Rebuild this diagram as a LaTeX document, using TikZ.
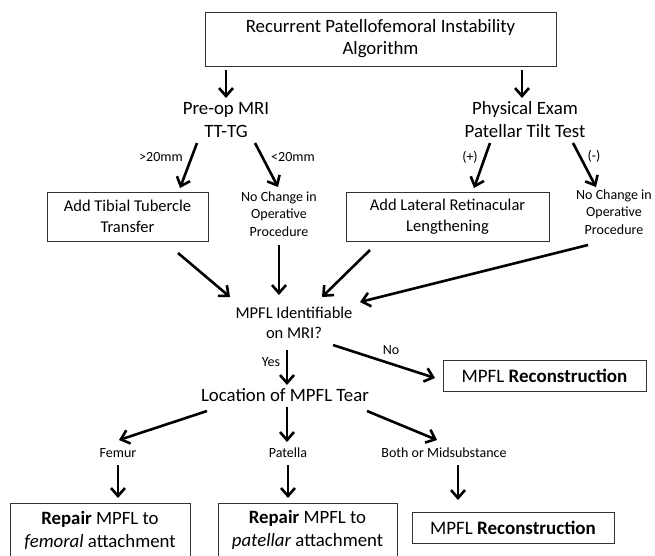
\documentclass[tikz,border=0pt]{standalone}
\usepackage{fontspec}
\setmainfont{Carlito}
\usetikzlibrary{arrows.meta}
\begin{document}
\begin{tikzpicture}[x=1pt,y=-1pt,
 arr/.style={line width=2.6pt,-{Straight Barb[length=8pt,width=14pt]}},
 box/.style={draw=black!80,line width=0.8pt,inner sep=0pt,align=center},
 txt/.style={inner sep=0pt,align=center},
 big/.style={font=\fontsize{18.8}{23}\selectfont},
 mid/.style={font=\fontsize{16.5}{21}\selectfont},
 sml/.style={font=\fontsize{14}{17.5}\selectfont}]
\useasboundingbox (0,0) rectangle (655,555);
\begin{scope}
\clip (0,0) rectangle (655,555);
% boxes
\node[box,minimum width=351pt,minimum height=54pt,font=\fontsize{18.8}{22}\selectfont] (top) at (380.5,39) {Recurrent Patellofemoral Instability\\Algorithm};
\node[txt,font=\fontsize{18.8}{23}\selectfont] (preop) at (226,120) {Pre-op MRI\\TT-TG};
\node[txt,font=\fontsize{18.8}{23}\selectfont] (phys) at (525,120) {Physical Exam\\Patellar Tilt Test};
\node[box,mid,minimum width=161pt,minimum height=49pt] (tib) at (127.5,216.5) {Add Tibial Tubercle\\Transfer};
\node[txt,sml] (nc1) at (279,214) {No Change in\\Operative\\Procedure};
\node[box,mid,minimum width=203pt,minimum height=49pt] (lat) at (447.5,216.5) {Add Lateral Retinacular\\Lengthening};
\node[txt,sml] (nc2) at (614,212) {No Change in\\Operative\\Procedure};
\node[txt,font=\fontsize{16.5}{20}\selectfont] (mpfl) at (294,323) {MPFL Identifiable\\on MRI?};
\node[box,font=\fontsize{19}{23}\selectfont,minimum width=203pt,minimum height=31pt] (rec1) at (544.5,375.5) {MPFL \textbf{Reconstruction}};
\node[txt,big] (loc) at (285,395) {Location of MPFL Tear};
\node[txt,sml] (fem) at (118,453) {Femur};
\node[txt,sml] (pat) at (288,453) {Patella};
\node[txt,sml] (both) at (444,453) {Both or Midsubstance};
\node[box,minimum width=180pt,minimum height=72pt] (rep1) at (100,539) {};
\node[txt,big] (rep1t) at (100,530) {\textbf{Repair} MPFL to\\\textit{femoral} attachment};
\node[box,minimum width=179pt,minimum height=72pt] (rep2) at (307.5,539) {};
\node[txt,big] (rep2t) at (307.5,530) {\textbf{Repair} MPFL to\\\textit{patellar} attachment};
\node[box,font=\fontsize{19}{23}\selectfont,minimum width=202pt,minimum height=31pt] (rec2) at (513,527.5) {MPFL \textbf{Reconstruction}};
% labels
\node[txt,sml] (gt) at (161,157) {>20mm};
\node[txt,sml] (lt) at (293,157) {<20mm};
\node[txt,sml] (plus) at (470,157) {(+)};
\node[txt,sml] (minus) at (594,156) {(-)};
\node[txt,sml] (yes) at (271,362) {Yes};
\node[txt,sml] (no) at (391,350) {No};
% arrow end points
\foreach \n/\px/\py in {s1/226/70,e1/226/98, s2/522/70,e2/522/98,
 s3/197/143,e3/180/188, s4/255/143,e4/278/187, s5/490/143,e5/474/188, s6/573/143,e6/596/187,
 s7/178/253,e7/230/297, s8/279/245,e8/279/295, s9/370/250,e9/322/297, s10/588/245,e10/360/302,
 s11/287/350,e11/287/385, s12/333/345,e12/435/378,
 s13/207/411,e13/119/440, s14/287/407,e14/287/442, s15/367/411,e15/437/440,
 s16/118/465,e16/118/498, s17/288/465,e17/288/498, s18/458/465,e18/458/500}
 {\coordinate (\n) at (\px,\py);}
\foreach \i in {1,...,18} {\draw[arr] (s\i) -- (e\i);}
\end{scope}
\end{tikzpicture}
\end{document}
